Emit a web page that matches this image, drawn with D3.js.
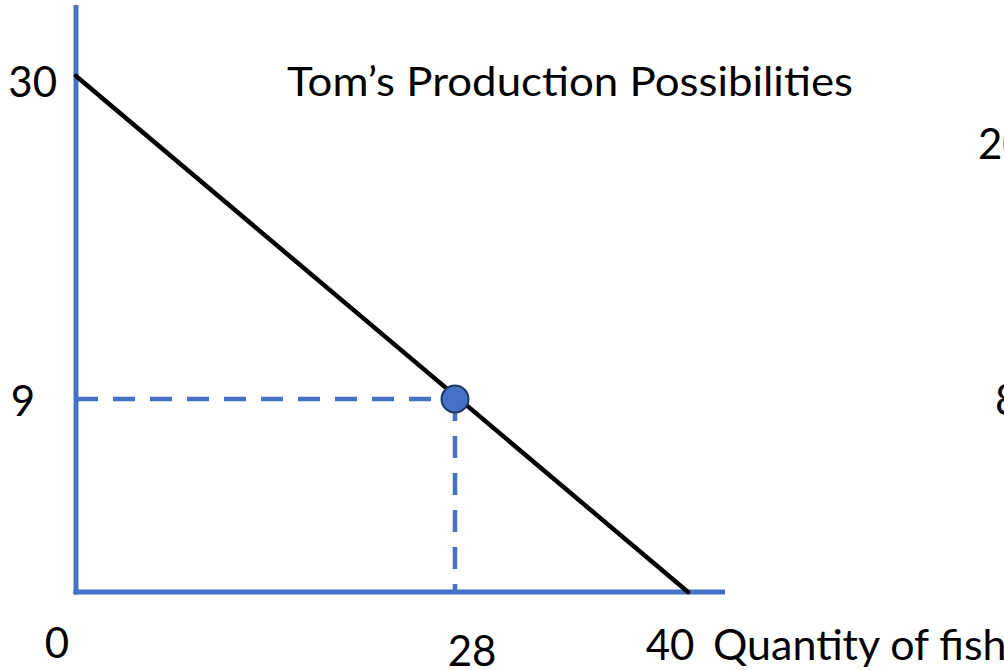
<!DOCTYPE html>
<html>
<head>
<meta charset="utf-8">
<script src="https://cdn.jsdelivr.net/npm/d3@7"></script>
<style>
  html, body { margin: 0; padding: 0; background: #fff; overflow: hidden; }
  svg { display: block; }
  text { font-family: Lato, "Open Sans", sans-serif; fill: #000; }
</style>
</head>
<body>
<div id="chart"></div>
<script>
// Tom's production possibilities frontier
const title = `Tom’s Production Possibilities`;
const xLabel = `Quantity of fish`;
const xTicks = [0, 28, 40];
const yTicks = [9, 30];
const frontier = [{ fish: 0, other: 30 }, { fish: 40, other: 0 }];
const chosen = { fish: 28, other: 9 };
// labels of the neighbouring chart, cut off by the right edge
const nextChartTicks = [`20`, `8`];

const width = 1004;
const height = 670;
const blue = `#4472c4`;

// the sketch is not drawn to scale, so both scales bend at the chosen point
const x = d3.scaleLinear()
  .domain([0, chosen.fish, 40])
  .range([76, 455, 688]);
const y = d3.scaleLinear()
  .domain([0, chosen.other, 30])
  .range([592, 399, 76]);

const svg = d3.select(`#chart`).append(`svg`)
  .attr(`width`, width)
  .attr(`height`, height);

// axes
svg.append(`line`)
  .attr(`x1`, x(0)).attr(`x2`, x(0))
  .attr(`y1`, 5).attr(`y2`, y(0) + 2.5)
  .attr(`stroke`, blue).attr(`stroke-width`, 5);
svg.append(`line`)
  .attr(`x1`, x(0) - 2.5).attr(`x2`, 725)
  .attr(`y1`, y(0)).attr(`y2`, y(0))
  .attr(`stroke`, blue).attr(`stroke-width`, 5);

// dashed guides to the chosen point
svg.append(`line`)
  .attr(`x1`, x(0)).attr(`x2`, x(chosen.fish))
  .attr(`y1`, y(chosen.other)).attr(`y2`, y(chosen.other))
  .attr(`stroke`, blue).attr(`stroke-width`, 4.5)
  .attr(`stroke-dasharray`, `22,15`);
svg.append(`line`)
  .attr(`x1`, x(chosen.fish)).attr(`x2`, x(chosen.fish))
  .attr(`y1`, y(chosen.other)).attr(`y2`, y(0))
  .attr(`stroke`, blue).attr(`stroke-width`, 4.5)
  .attr(`stroke-dasharray`, `22,15`);

// frontier
const line = d3.line()
  .x((d) => x(d.fish))
  .y((d) => y(d.other));
svg.append(`path`)
  .datum(frontier)
  .attr(`d`, line)
  .attr(`fill`, `none`)
  .attr(`stroke`, `#000`)
  .attr(`stroke-width`, 4.5)
  .attr(`stroke-linecap`, `round`);

svg.append(`circle`)
  .attr(`cx`, x(chosen.fish))
  .attr(`cy`, y(chosen.other))
  .attr(`r`, 13.5)
  .attr(`fill`, blue)
  .attr(`stroke`, `#1f3864`)
  .attr(`stroke-width`, 2);

// tick labels
const fontSize = 42;
svg.selectAll(`.y-tick`)
  .data(yTicks)
  .enter().append(`text`)
    .attr(`class`, `y-tick`)
    .attr(`x`, (d) => d === 30 ? x(0) - 19 : x(0) - 41)
    .attr(`y`, (d) => d === 30 ? y(d) + 21 : y(d) + 17)
    .attr(`text-anchor`, `end`)
    .style(`font-size`, `${fontSize}px`)
    .text((d) => d);

svg.selectAll(`.x-tick`)
  .data(xTicks)
  .enter().append(`text`)
    .attr(`class`, `x-tick`)
    .attr(`x`, (d) => {
      if (d === 0) return x(d) - 19;
      if (d === 40) return x(d) - 18;
      return x(d) + 17;
    })
    .attr(`y`, (d) => {
      if (d === 0) return y(0) + 66;
      if (d === 40) return y(0) + 68;
      return y(0) + 74;
    })
    .attr(`text-anchor`, `middle`)
    .style(`font-size`, `${fontSize}px`)
    .text((d) => d);

svg.append(`text`)
  .attr(`x`, 713)
  .attr(`y`, y(0) + 68)
  .style(`font-size`, `${fontSize + 1}px`)
  .text(xLabel);

svg.append(`text`)
  .attr(`x`, 287)
  .attr(`y`, 96)
  .attr(`textLength`, 566)
  .attr(`lengthAdjust`, `spacingAndGlyphs`)
  .style(`font-size`, `${fontSize - 1}px`)
  .text(title);

svg.selectAll(`.next-tick`)
  .data(nextChartTicks)
  .enter().append(`text`)
    .attr(`class`, `next-tick`)
    .attr(`x`, (d, i) => i === 0 ? 978 : 995)
    .attr(`y`, (d, i) => i === 0 ? 159 : 415)
    .style(`font-size`, `${fontSize}px`)
    .text((d) => d);
</script>
</body>
</html>
